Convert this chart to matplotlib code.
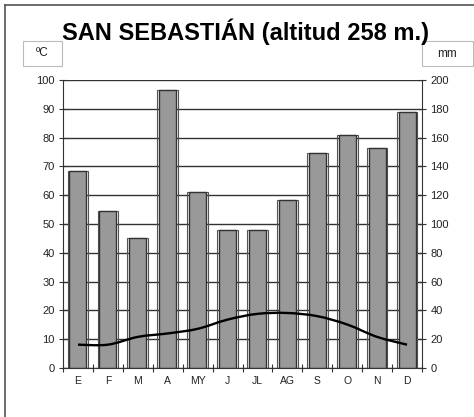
import matplotlib.pyplot as plt
from matplotlib.patches import Rectangle, PathPatch
from matplotlib.path import Path
import numpy as np

plt.rcParams['font.family'] = ['Liberation Sans', 'DejaVu Sans']

# datos climograma
meses = ['E', 'F', 'M', 'A', 'MY', 'J', 'JL', 'AG', 'S', 'O', 'N', 'D']
precip_mm = [137, 109, 90, 193, 122, 96, 96, 117, 149, 162, 153, 178]
temp_c = [8.1, 8.1, 10.8, 12.0, 13.6, 16.8, 18.8, 19.1, 18.0, 15.1, 10.8, 8.1]

W, H = 474, 417
fig = plt.figure(figsize=(W / 100, H / 100), dpi=100)

def fx(px):
    return px / W

def fy(py):
    return 1 - py / H

# marco exterior
fig.add_artist(plt.Line2D([fx(5), fx(5)], [fy(5), 0], color='#555555', lw=1.2))
fig.add_artist(plt.Line2D([fx(5), 1], [fy(5), fy(5)], color='#555555', lw=1.2))

ax = fig.add_axes([fx(63), fy(368), fx(422) - fx(63), fy(80) - fy(368)])
ax2 = ax.twinx()

x = np.arange(len(meses))
gcol = '#333333'

# barras (precipitacion) en eje derecho
ax2.bar(x, precip_mm, width=0.69, color='none', edgecolor='#555555', lw=0.8, zorder=2)
ax2.bar(x, precip_mm, width=0.57, color='#999999', edgecolor='#333333', lw=1.0, zorder=3)
ax2.set_ylim(0, 200)
ax2.set_yticks(np.arange(0, 201, 20))
ax2.set_axisbelow(True)
ax2.yaxis.grid(True, color=gcol, lw=1.0)
ax2.set_xticks(np.arange(-0.5, 12, 1))
ax2.xaxis.grid(True, color=gcol, lw=1.0)

# temperatura, linea suavizada
ax.set_zorder(ax2.get_zorder() + 1)
ax.patch.set_visible(False)
pts = np.column_stack([x, temp_c]).astype(float)
ext = np.vstack([pts[0], pts, pts[-1]])
verts = [tuple(pts[0])]
codes = [Path.MOVETO]
for i in range(len(pts) - 1):
    p0, p1, p2, p3 = ext[i], ext[i + 1], ext[i + 2], ext[i + 3]
    c1 = p1 + (p2 - p0) / 6
    c2 = p2 - (p3 - p1) / 6
    verts += [tuple(c1), tuple(c2), tuple(p2)]
    codes += [Path.CURVE4] * 3
ax.add_patch(PathPatch(Path(verts, codes), facecolor='none', edgecolor='black', lw=1.7, zorder=5))

ax.set_xlim(-0.5, 11.5)
ax.set_ylim(0, 100)
ax.set_yticks(np.arange(0, 101, 10))
ax.set_xticks(np.arange(-0.5, 12, 1))
ax.set_xticklabels([])
ax.set_xticks(x, minor=True)
ax.set_xticklabels(meses, minor=True)
ax2.set_xlim(-0.5, 11.5)

for a in (ax, ax2):
    for s in a.spines.values():
        s.set_visible(False)
ax.spines['left'].set_visible(True)
ax.spines['bottom'].set_visible(True)
ax.spines['left'].set_color(gcol)
ax.spines['bottom'].set_color(gcol)
ax2.spines['right'].set_visible(True)
ax2.spines['right'].set_color(gcol)

ax.tick_params(axis='y', direction='inout', length=6, color=gcol, labelsize=8, labelcolor='#222222', pad=3)
ax2.tick_params(axis='y', direction='inout', length=6, color=gcol, labelsize=8, labelcolor='#222222', pad=3)
ax.tick_params(axis='x', which='major', direction='inout', length=6, color=gcol)
ax.tick_params(axis='x', which='minor', length=0, labelsize=7.5, labelcolor='#222222', pad=6)
ax2.tick_params(axis='x', length=0)

# titulo y etiquetas de unidades
fig.text(fx(246), fy(32), 'SAN SEBASTIÁN (altitud 258 m.)', ha='center', va='center',
         fontsize=17, fontweight='bold')
fig.add_artist(Rectangle((fx(23), fy(66)), fx(62) - fx(23), fy(41) - fy(66),
                         facecolor='white', edgecolor='#bbbbbb', lw=0.8))
fig.text(fx(42.5), fy(53.5), 'ºC', ha='center', va='center', fontsize=8.5, color='#222222')
fig.add_artist(Rectangle((fx(422), fy(66)), fx(473) - fx(422), fy(41) - fy(66),
                         facecolor='white', edgecolor='#bbbbbb', lw=0.8))
fig.text(fx(447.5), fy(54), 'mm', ha='center', va='center', fontsize=8.5, color='#222222')

fig.savefig('out.png', dpi=100)
